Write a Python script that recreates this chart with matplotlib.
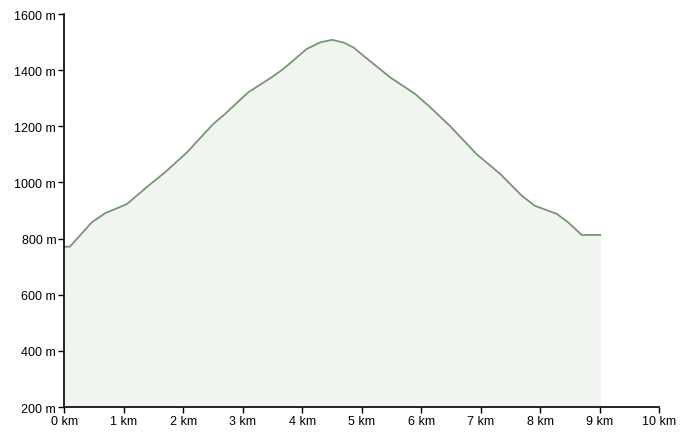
import matplotlib
matplotlib.use('Agg')
import matplotlib.pyplot as plt

# distance (km) and elevation (m)
dist_km = [0.0, 0.09, 0.46, 0.68, 1.05, 1.41, 1.69, 2.06, 2.5, 2.7,
           3.09, 3.48, 3.68, 4.07, 4.3, 4.5, 4.7, 4.86, 5.03, 5.48, 5.9, 6.15,
           6.48, 6.93, 7.33, 7.69, 7.91, 8.28, 8.47, 8.7, 9.01]
elev_m = [771, 771, 858, 890, 923, 988, 1036, 1107, 1208, 1244,
          1321, 1374, 1404, 1475, 1499, 1508, 1498, 1481, 1451, 1374, 1315, 1268,
          1202, 1101, 1030, 953, 917, 888, 858, 813, 813]

x_ticks = list(range(0, 11))
y_ticks = list(range(200, 1601, 200))

plt.rcParams['font.family'] = ['Liberation Sans', 'DejaVu Sans']

fig = plt.figure(figsize=(6.86, 4.39), dpi=100)
ax = fig.add_axes([0.094, 0.0706, 0.8667, 0.8952])

ax.fill_between(dist_km, elev_m, 200, color='#f1f5f0', linewidth=0)
ax.plot(dist_km, elev_m, color='#709a6c', linewidth=1.3)

ax.set_xlim(0, 10)
ax.set_ylim(200, 1600)
ax.set_xticks(x_ticks)
ax.set_xticklabels([f'{v} km' for v in x_ticks])
ax.set_yticks(y_ticks)
ax.set_yticklabels([f'{v} m' for v in y_ticks])

for side in ['top', 'right']:
    ax.spines[side].set_visible(False)
for side in ['left', 'bottom']:
    ax.spines[side].set_linewidth(1.2)
ax.tick_params(labelsize=9, length=4, width=1, pad=2)

fig.savefig('out.png', dpi=100)
